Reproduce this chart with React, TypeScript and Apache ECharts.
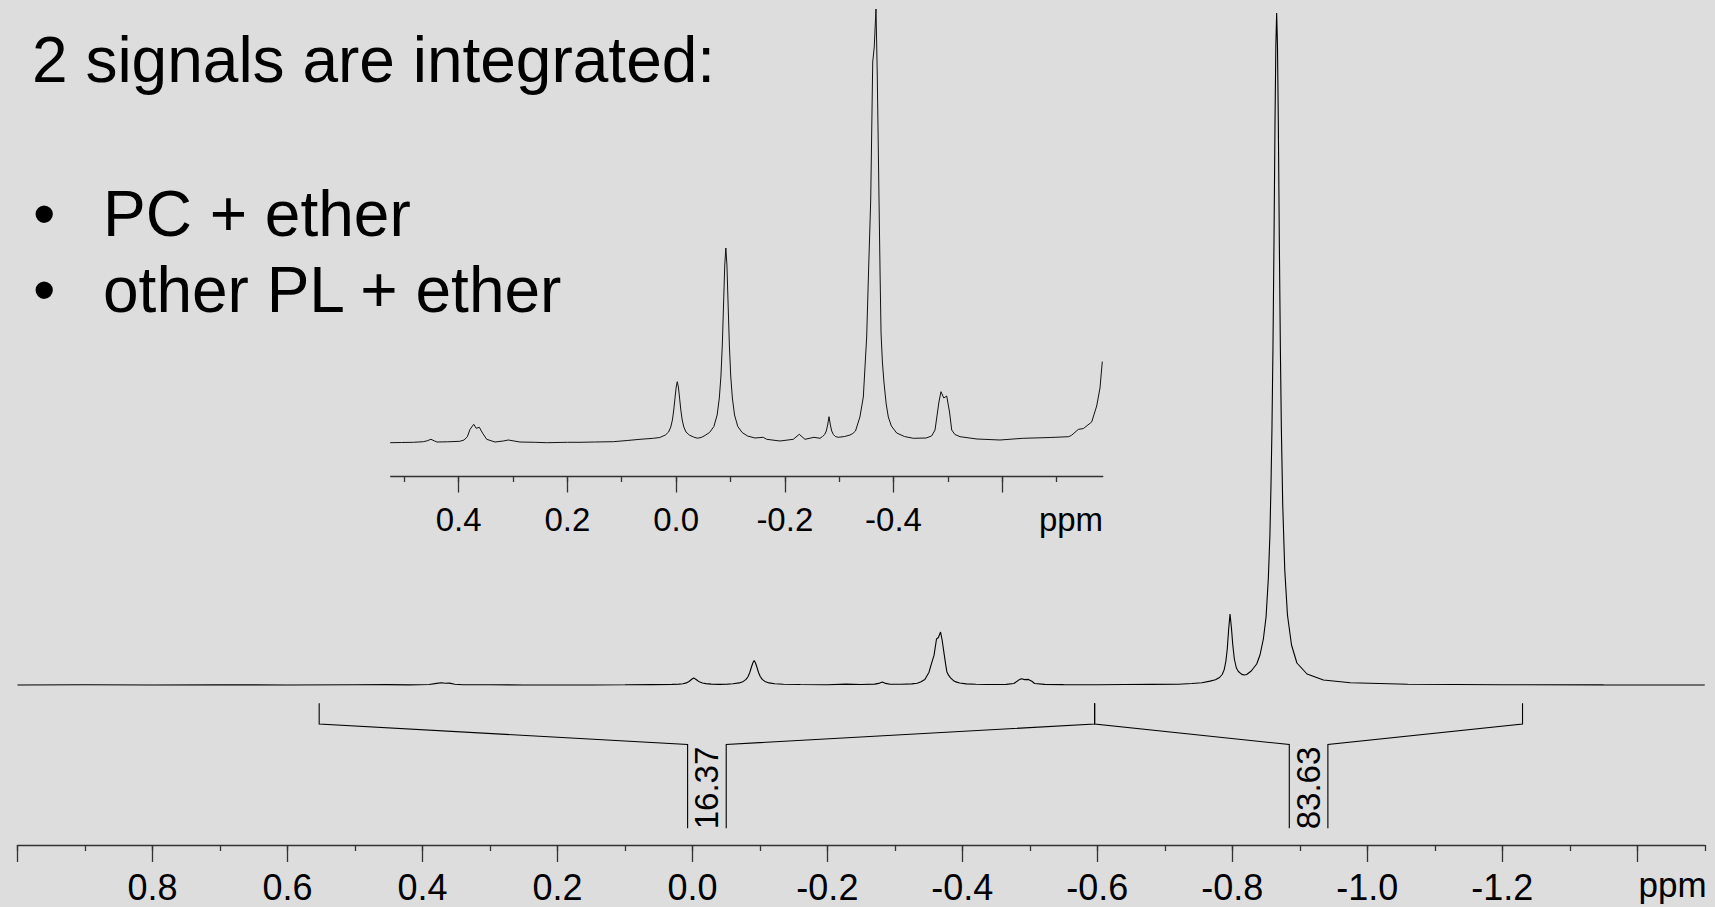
import { useEffect, useRef } from "react";
import * as echarts from "echarts";

// ---------- data ----------
// main 1H spectrum: [ppm, intensity]
const mainSpectrum: [number, number][] = [
  [1.0, 0], [0.9, 0.2], [0.8, 0], [0.7, 0.2], [0.6, 0], [0.5, 0.2], [0.452, 0.4], [0.42, 0.1],
  [0.39, 0.5], [0.379, 1.6], [0.372, 2.3], [0.366, 1.8], [0.36, 1.9], [0.352, 0.8], [0.34, 0.2],
  [0.3, 0.2], [0.25, 0], [0.15, 0], [0.1, 0.2], [0.06, 0.4], [0.03, 0.6], [0.02, 0.9], [0.014, 1.3],
  [0.009, 2.1], [0.005, 3.5], [0.001, 5.7], [-0.002, 7], [-0.005, 5.8], [-0.008, 4.2],
  [-0.011, 2.9], [-0.015, 2], [-0.02, 1.4], [-0.028, 0.9], [-0.04, 0.6], [-0.052, 0.9],
  [-0.06, 1.3], [-0.0695, 2.1], [-0.0755, 3.6], [-0.0795, 5.6], [-0.0825, 8.5], [-0.085, 12.5],
  [-0.0875, 18], [-0.0895, 22], [-0.0915, 24.5], [-0.0935, 22], [-0.0955, 18], [-0.098, 12.5],
  [-0.1005, 8.5], [-0.1035, 5.6], [-0.1075, 3.6], [-0.1135, 2.1], [-0.122, 1.3], [-0.135, 0.8],
  [-0.16, 0.5], [-0.2, 0.2], [-0.227, 0.9], [-0.25, 0.5], [-0.27, 0.9], [-0.276, 1.6],
  [-0.2813, 3.1], [-0.2863, 1.6], [-0.293, 0.8], [-0.31, 0.7], [-0.325, 1.1], [-0.333, 1.8],
  [-0.3381, 3.1], [-0.3444, 5.5], [-0.3506, 12.8], [-0.354, 20.8], [-0.358, 29.6], [-0.3617, 46],
  [-0.3645, 47.5], [-0.3677, 53], [-0.37, 45], [-0.3733, 29.6], [-0.3752, 20.8], [-0.377, 13.3],
  [-0.3795, 9.8], [-0.3825, 7.2], [-0.3865, 4.6], [-0.3904, 3.1], [-0.396, 2], [-0.4058, 1.1],
  [-0.42, 0.7], [-0.436, 0.5], [-0.465, 0.6], [-0.4763, 1.5], [-0.4835, 4.9], [-0.4873, 6.2],
  [-0.4925, 5.4], [-0.4978, 5.6], [-0.503, 3.7], [-0.507, 1.5], [-0.522, 0.6], [-0.55, 0.4],
  [-0.6, 0.3], [-0.64, 0.5], [-0.68, 0.6], [-0.72, 0.7], [-0.74, 1.5], [-0.755, 2.2],
  [-0.767, 3.9], [-0.775, 5.2], [-0.781, 7.5], [-0.785, 10.5], [-0.788, 15.4], [-0.7905, 24],
  [-0.7925, 36], [-0.7945, 55], [-0.7966, 71], [-0.7987, 57], [-0.8007, 40], [-0.803, 26],
  [-0.806, 17], [-0.809, 13.5], [-0.814, 10.6], [-0.818, 10], [-0.8213, 10.5], [-0.828, 14],
  [-0.8361, 21], [-0.841, 30], [-0.846, 46], [-0.85, 68], [-0.8534, 107], [-0.8557, 150],
  [-0.8573, 200], [-0.8587, 255], [-0.8602, 336], [-0.8617, 440], [-0.8632, 560], [-0.8645, 640],
  [-0.8657, 672], [-0.8669, 640], [-0.8682, 560], [-0.8697, 440], [-0.8712, 336], [-0.8727, 255],
  [-0.8747, 180], [-0.8777, 115], [-0.8817, 70], [-0.8877, 40], [-0.8957, 22], [-0.9107, 11],
  [-0.935, 5], [-0.975, 2.2], [-1.06, 0.8], [-1.2, 0.3], [-1.35, 0.1], [-1.5, 0],
];

// expanded inset: [ppm, intensity]
const insetSpectrum: [number, number][] = [
  [0.526, -0.7], [0.505, -0.5], [0.483, -0.3], [0.465, 0.3], [0.458, 1.2], [0.451, 2.7],
  [0.445, 1.2], [0.44, 0], [0.42, 0.2], [0.398, 0.7], [0.39, 2], [0.384, 5.3], [0.379, 12.7],
  [0.3723, 17.7], [0.3676, 13.7], [0.362, 14.7], [0.3558, 8.7], [0.3484, 2.7], [0.3332, 0],
  [0.318, 1], [0.3087, 2], [0.298, 1], [0.2872, 0], [0.26, -0.3], [0.238, -0.7], [0.2, -0.3],
  [0.1768, -0.3], [0.15, 0], [0.1155, 0.3], [0.09, 1.5], [0.0664, 2.7], [0.0419, 3.7],
  [0.03, 4.5], [0.0198, 7], [0.0138, 10], [0.0098, 15], [0.0068, 22], [0.0043, 32], [0.0018, 45],
  [-0.0002, 55], [-0.0022, 60.3], [-0.0042, 55], [-0.0062, 45], [-0.0087, 32], [-0.0112, 22],
  [-0.0142, 15], [-0.0182, 10], [-0.0242, 7], [-0.032, 5], [-0.039, 3.8], [-0.046, 4.5],
  [-0.0515, 6], [-0.0615, 9.5], [-0.0695, 15.5], [-0.0755, 27], [-0.0795, 44], [-0.0825, 66],
  [-0.085, 97], [-0.0875, 141], [-0.0895, 177], [-0.0915, 194], [-0.0935, 177], [-0.0955, 141],
  [-0.098, 97], [-0.1005, 66], [-0.1035, 44], [-0.1075, 27], [-0.1135, 15.5], [-0.1215, 9.5],
  [-0.1315, 6], [-0.145, 4], [-0.1604, 4.7], [-0.1667, 2.7], [-0.1911, 1], [-0.2156, 2.7],
  [-0.2266, 7.7], [-0.2371, 2.7], [-0.2537, 4.7], [-0.2647, 3.7], [-0.2693, 5.5], [-0.2733, 7.5],
  [-0.2763, 11], [-0.2788, 17], [-0.2813, 25.3], [-0.2838, 17], [-0.2863, 11], [-0.2893, 7.5],
  [-0.293, 5.5], [-0.2984, 4.7], [-0.31, 5.5], [-0.3199, 7], [-0.325, 8.5], [-0.33, 11],
  [-0.3381, 25], [-0.3444, 45], [-0.3506, 105], [-0.354, 170], [-0.358, 242], [-0.3617, 380],
  [-0.3645, 395], [-0.3677, 433], [-0.37, 370], [-0.3733, 242], [-0.3752, 170], [-0.377, 109],
  [-0.3795, 80], [-0.3825, 59], [-0.3865, 38], [-0.3904, 25], [-0.396, 16], [-0.4058, 9],
  [-0.42, 5.5], [-0.4364, 3.7], [-0.46, 4], [-0.47, 6], [-0.4763, 12], [-0.4835, 40],
  [-0.4873, 50.3], [-0.4925, 44], [-0.4978, 46], [-0.503, 30], [-0.507, 12], [-0.513, 7.5],
  [-0.5223, 5.3], [-0.5534, 3], [-0.5958, 2], [-0.6378, 3.7], [-0.688, 4.5], [-0.7222, 5.3],
  [-0.7277, 6.8], [-0.7399, 12.6], [-0.7491, 13.4], [-0.7645, 20], [-0.7737, 36], [-0.7798, 54],
  [-0.784, 80.4],
];

// integration regions [from ppm, to ppm] and their integrals
const integralRegions: [number, number][] = [[0.553, -0.596], [-0.596, -1.23]];
const integralValues = [16.37, 83.63];

// tick labels
const mainTickLabels = ["0.8", "0.6", "0.4", "0.2", "0.0", "-0.2", "-0.4", "-0.6", "-0.8", "-1.0", "-1.2"];
const insetTickLabels = ["0.4", "0.2", "0.0", "-0.2", "-0.4"];
const axisUnit = "ppm";

const titleText = "2 signals are integrated:";
const bulletItems = ["PC + ether", "other PL + ether"];

// ---------- layout / style ----------
const FONT = '"Liberation Sans", Arial, Helvetica, sans-serif';
const BG = "#dddddd";
const AXIS_COLOR = "#333333";

const MAIN_X0 = 692.4; // pixel of 0 ppm
const MAIN_PX = 674.9; // pixels per ppm
const MAIN_TOP = 13;
const MAIN_BOTTOM = 845;
const MAIN_YMIN = -160;
const MAIN_YMAX = 672;

const INS_X0 = 676.1;
const INS_PX = 543.6;
const INS_TOP = 9;
const INS_BOTTOM = 476;
const INS_YMIN = -34;
const INS_YMAX = 433;

// bracket levels in main intensity units (below the baseline)
const BR_TOP = -18.3;
const BR_BEND = -39;
const BR_BOX = -59.5;
const BR_BOTTOM = -143.3;
const BR_TEXT = -103;
const BR_HALF = 19.3;

function gridFor(x0: number, px: number, min: number, max: number, top: number, bottom: number) {
  return { left: x0 - px * max, width: px * (max - min), top, height: bottom - top };
}

export default function App() {
  const ref = useRef<HTMLDivElement>(null);

  useEffect(() => {
    if (!ref.current) return;
    document.body.style.margin = "0";
    const chart = echarts.init(ref.current, undefined, { renderer: "svg" });

    const hiddenY = (gridIndex: number, min: number, max: number) => ({
      type: "value", gridIndex, min, max, show: false,
      axisLine: { show: false }, axisTick: { show: false }, axisLabel: { show: false }, splitLine: { show: false },
    });

    const baseX = {
      type: "value",
      inverse: true,
      splitLine: { show: false },
      axisLine: { show: false, onZero: false, lineStyle: { color: AXIS_COLOR, width: 1.3 } },
      axisTick: { show: false, inside: false, lineStyle: { color: AXIS_COLOR, width: 1.3 } },
      axisLabel: { show: false },
    };

    const textStyle = (text: string, size: number, align: string) => ({
      text, fontSize: size, fontFamily: FONT, fill: "#000",
      align, verticalAlign: "middle", textAlign: align, textVerticalAlign: "middle",
    });

    const option: any = {
      animation: false,
      backgroundColor: BG,
      grid: [
        gridFor(MAIN_X0, MAIN_PX, -1.5, 1.0, MAIN_TOP, MAIN_BOTTOM),
        gridFor(MAIN_X0, MAIN_PX, -1.4, 1.0, MAIN_TOP, MAIN_BOTTOM),
        gridFor(INS_X0, INS_PX, -0.785, 0.525, INS_TOP, INS_BOTTOM),
        gridFor(INS_X0, INS_PX, -0.7, 0.5, INS_TOP, INS_BOTTOM),
        gridFor(INS_X0, INS_PX, -0.6, 0.4, INS_TOP, INS_BOTTOM),
      ],
      xAxis: [
        {
          ...baseX, gridIndex: 0, min: -1.5, max: 1.0, interval: 0.1,
          axisLine: { ...baseX.axisLine, show: true },
          axisTick: { ...baseX.axisTick, show: true, length: 6 },
        },
        {
          ...baseX, gridIndex: 1, min: -1.4, max: 1.0, interval: 0.2,
          axisTick: { ...baseX.axisTick, show: true, length: 17 },
          axisLabel: {
            show: true, margin: 24, color: "#000", fontSize: 36, lineHeight: 36, fontFamily: FONT,
            showMinLabel: true, showMaxLabel: true,
            formatter: (v: number) => {
              const s = v.toFixed(1);
              return mainTickLabels.includes(s) ? s : "";
            },
          },
        },
        {
          ...baseX, gridIndex: 2, min: -0.785, max: 0.525,
          axisLine: { ...baseX.axisLine, show: true },
        },
        {
          ...baseX, gridIndex: 3, min: -0.7, max: 0.5, interval: 0.1,
          axisTick: { ...baseX.axisTick, show: true, length: 6 },
        },
        {
          ...baseX, gridIndex: 4, min: -0.6, max: 0.4, interval: 0.2,
          axisTick: { ...baseX.axisTick, show: true, length: 16.5 },
          axisLabel: {
            show: true, margin: 26.5, color: "#000", fontSize: 33, lineHeight: 33, fontFamily: FONT,
            showMinLabel: true, showMaxLabel: true,
            formatter: (v: number) => {
              const s = v.toFixed(1);
              return insetTickLabels.includes(s) ? s : "";
            },
          },
        },
      ],
      yAxis: [
        hiddenY(0, MAIN_YMIN, MAIN_YMAX),
        hiddenY(1, MAIN_YMIN, MAIN_YMAX),
        hiddenY(2, INS_YMIN, INS_YMAX),
        hiddenY(3, INS_YMIN, INS_YMAX),
        hiddenY(4, INS_YMIN, INS_YMAX),
      ],
      series: [
        {
          type: "line", xAxisIndex: 0, yAxisIndex: 0, data: mainSpectrum,
          showSymbol: false, symbol: "none", silent: true,
          lineStyle: { color: "#000", width: 1.1 },
        },
        {
          type: "line", xAxisIndex: 2, yAxisIndex: 2, data: insetSpectrum,
          showSymbol: false, symbol: "none", silent: true,
          lineStyle: { color: "#111", width: 1 },
        },
        {
          type: "custom", xAxisIndex: 0, yAxisIndex: 0, silent: true,
          data: integralRegions.map((r, i) => [r[0], r[1], integralValues[i]]),
          encode: { x: [0, 1], y: 2 },
          renderItem: (_params: any, api: any) => {
            const a = api.value(0);
            const b = api.value(1);
            const val = api.value(2);
            const mid = (a + b) / 2;
            const xa = api.coord([a, 0])[0];
            const xb = api.coord([b, 0])[0];
            const xm = api.coord([mid, 0])[0];
            const y = (v: number) => api.coord([mid, v])[1];
            const lineStyle = { stroke: "#000", fill: null, lineWidth: 1.1 };
            return {
              type: "group",
              children: [
                {
                  type: "polyline",
                  shape: { points: [[xa, y(BR_TOP)], [xa, y(BR_BEND)], [xm - BR_HALF, y(BR_BOX)], [xm - BR_HALF, y(BR_BOTTOM)]] },
                  style: lineStyle,
                },
                {
                  type: "polyline",
                  shape: { points: [[xm + BR_HALF, y(BR_BOTTOM)], [xm + BR_HALF, y(BR_BOX)], [xb, y(BR_BEND)], [xb, y(BR_TOP)]] },
                  style: lineStyle,
                },
                {
                  type: "text",
                  x: xm,
                  y: y(BR_TEXT),
                  rotation: Math.PI / 2,
                  style: textStyle(Number(val).toFixed(2), 33, "center"),
                },
              ],
            };
          },
        },
      ],
      graphic: [
        { type: "text", x: 32, y: 60, style: textStyle(titleText, 64, "left") },
        ...bulletItems.flatMap((t, i) => [
          { type: "text", x: 33, y: 213.5 + i * 76.7, style: textStyle("\u2022", 64, "left") },
          { type: "text", x: 103, y: 213.5 + i * 76.7, style: textStyle(t, 64, "left") },
        ]),
        { type: "text", x: 1672.5, y: 884, style: textStyle(axisUnit, 35, "center") },
        { type: "text", x: 1071, y: 519, style: textStyle(axisUnit, 33, "center") },
      ],
    };

    chart.setOption(option);
    return () => chart.dispose();
  }, []);

  return (
    <div
      ref={ref}
      style={{ position: "fixed", left: 0, top: 0, width: 1715, height: 907, background: BG }}
    />
  );
}
